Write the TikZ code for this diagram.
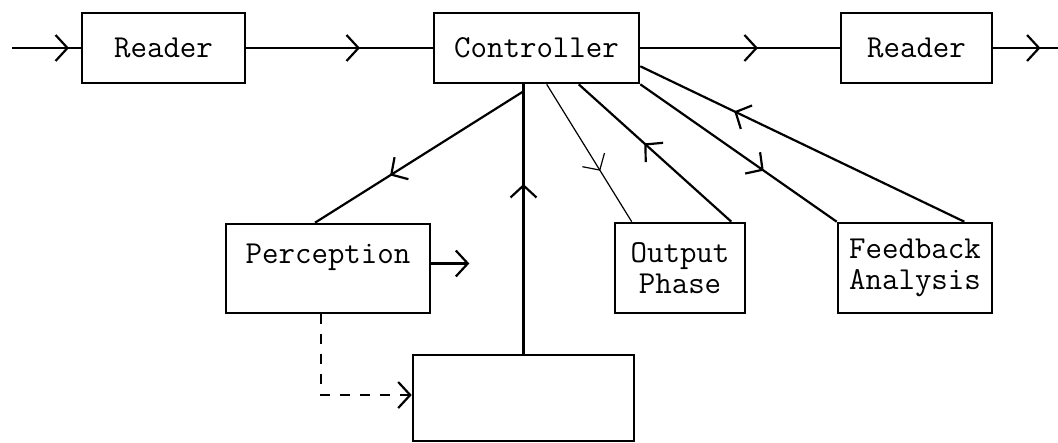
\documentclass[tikz,border=0pt]{standalone}
\usetikzlibrary{arrows.meta, positioning, calc, decorations.markings}
\tikzset{
  every picture/.style={font=\ttfamily\fontsize{16}{15.5}\selectfont, line width=1.1pt},
  >={Straight Barb[length=6pt, width=13pt]},
  box/.style={draw, line width=1.3pt, inner sep=0pt, align=center},
  wire/.style={draw, line width=1.1pt},
  thinwire/.style={draw, line width=0.6pt},
  midarrow/.style={postaction={decorate}, decoration={markings, mark=at position #1 with {\arrow{>}}}},
}

\begin{document}
\begin{tikzpicture}[x=0.5pt, y=-0.5pt]
  \useasboundingbox (0,0) rectangle (1058,443);
  % top row
  \node[box, minimum width=81.5pt, minimum height=35pt] (rdr1) at (163.5,48) {Reader};
  \node[box, minimum width=102.5pt, minimum height=35pt] (ctrl) at (536.5,48) {Controller};
  \node[box, minimum width=75.5pt, minimum height=35pt] (rdr2) at (916.5,48) {Reader};
  % lower boxes
  \node[box, minimum width=102pt, minimum height=44.5pt] (perc) at (328,268.5) {};
  \node (perctxt) at (328,257) {Perception};
  \node[box, minimum width=65pt, minimum height=45pt] (outp) at (680,268) {Output\\Phase};
  \node[box, minimum width=77pt, minimum height=45pt] (fback) at (915,268) {Feedback\\Analysis};
  \node[box, minimum width=110.5pt, minimum height=43pt] (mem) at (523.5,398) {};
  % free ends and taps on the boxes
  \coordinate (in) at (12,48);
  \coordinate (out) at (1058,48);
  \coordinate (vtop) at (mem.north |- ctrl.south);
  \coordinate (ptap) at ($(vtop)+(0,7)$);
  \coordinate (ptop) at ($(perc.north)+(-13,0)$);
  \coordinate (otap) at ($(ctrl.south west)+(114,0)$);
  \coordinate (oin) at ($(outp.north west)+(18,0)$);
  \coordinate (oout) at ($(outp.north east)+(-15,0)$);
  \coordinate (otap2) at ($(ctrl.south west)+(146,0)$);
  \coordinate (fout) at ($(fback.north east)+(-29,0)$);
  \coordinate (ftap) at ($(ctrl.south east)+(0,-18)$);
  \coordinate (pout) at ($(perc.east)+(0,-5)$);
  \coordinate (pnext) at ($(pout)+(38,0)$);
  \coordinate (pdown) at ($(perc.south)+(-7,0)$);
  \coordinate (min) at ($(mem.west)+(0,-3)$);
  % main line
  \draw[wire, midarrow=0.83] (in) -- (rdr1);
  \draw[wire, midarrow=0.61] (rdr1) -- (ctrl);
  \draw[wire, midarrow=0.59] (ctrl) -- (rdr2);
  \draw[wire, midarrow=0.73] (rdr2) -- (out);
  % links to the controller
  \draw[wire, midarrow=0.64] (ptap) -- (ptop);
  \draw[wire, midarrow=0.63] (mem.north) -- (vtop);
  \draw[thinwire, midarrow=0.63] (otap) -- (oin);
  \draw[wire, midarrow=0.57] (oout) -- (otap2);
  \draw[wire, midarrow=0.63] (ctrl.south east) -- (fback.north west);
  \draw[wire, midarrow=0.71] (fout) -- (ftap);
  % perception outputs
  \draw[wire, ->] (pout) -- (pnext);
  \draw[wire, dash pattern=on 5pt off 5pt, ->] (pdown) |- (min);
\end{tikzpicture}
\end{document}
